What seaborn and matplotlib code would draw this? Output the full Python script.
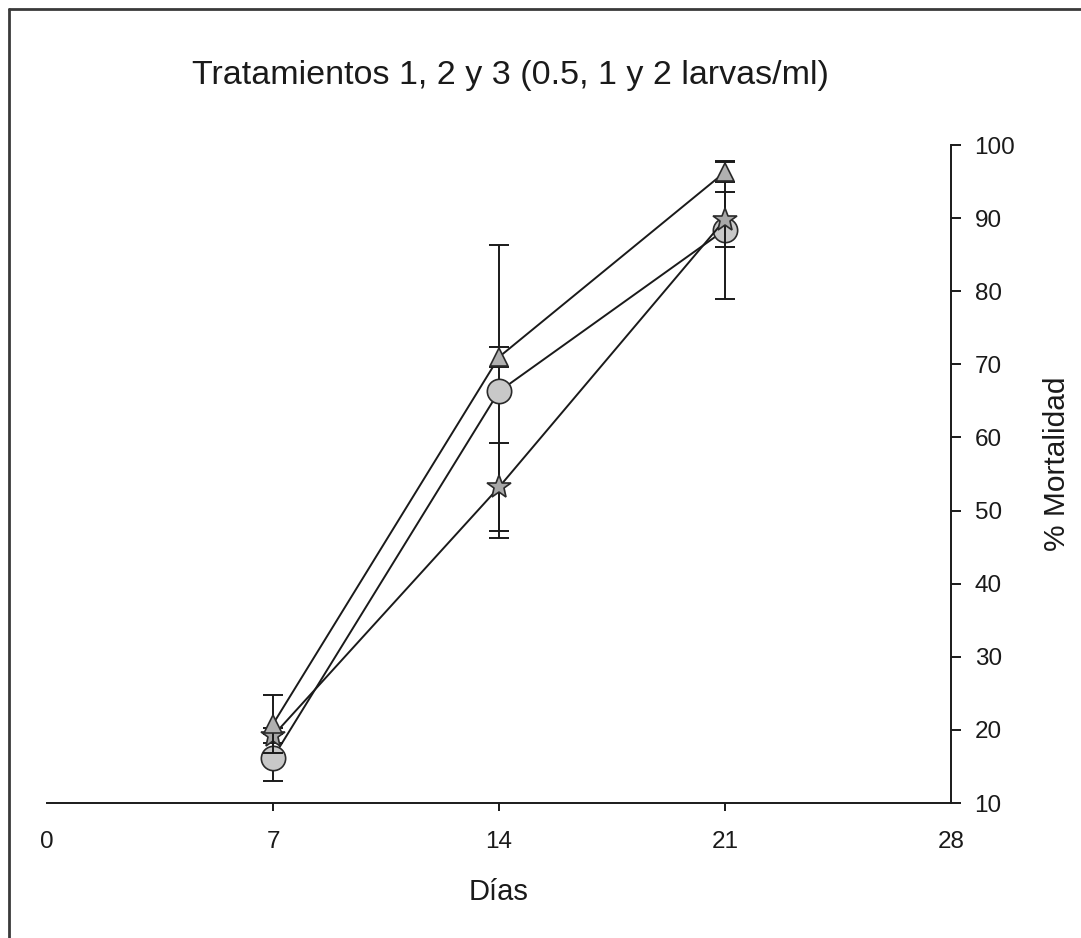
import matplotlib
matplotlib.use("Agg")
import matplotlib.pyplot as plt
from matplotlib.lines import Line2D
import seaborn as sns
import pandas as pd

# Days of sampling
dias = [7, 14, 21]

# Mortality (%) and error for each treatment
t1_mort = [16.2, 66.3, 88.4]
t1_err = [3.2, 20.0, 9.4]
t2_mort = [20.8, 71.0, 96.3]
t2_err = [4.0, 1.4, 1.4]
t3_mort = [19.2, 53.2, 89.8]
t3_err = [1.0, 6.0, 3.8]

x_ticks = [0, 7, 14, 21, 28]
y_ticks = [10, 20, 30, 40, 50, 60, 70, 80, 90, 100]

sns.set_theme(style="white")
plt.rcParams["font.family"] = ["Liberation Sans", "DejaVu Sans"]

fig = plt.figure(figsize=(10.81, 9.38), dpi=100)
ax = fig.add_axes([0.0435, 0.1439, 0.8362, 0.7015])

series = [
    ("T1", t1_mort, t1_err, "o", 17.5, "#c8c8c8"),
    ("T3", t3_mort, t3_err, "*", 18, "#a8a8a8"),
    ("T2", t2_mort, t2_err, "^", 13, "#b0b0b0"),
]

for i, (name, mort, err, mk, ms, fc) in enumerate(series):
    df = pd.DataFrame({"dia": dias, "mort": mort})
    ax.errorbar(dias, mort, yerr=err, fmt="none", ecolor="#1a1a1a",
                elinewidth=1.4, capsize=7.5, capthick=1.4, zorder=2 + i * 2)
    sns.lineplot(data=df, x="dia", y="mort", ax=ax, color="#1a1a1a",
                 linewidth=1.4, marker=mk, markersize=ms,
                 markerfacecolor=fc, markeredgecolor="#2a2a2a",
                 markeredgewidth=1.2, zorder=3 + i * 2)

ax.set_xlim(0, 28)
ax.set_ylim(10, 100)
ax.set_xticks(x_ticks)
ax.set_xticklabels([str(v) for v in x_ticks])
ax.set_yticks(y_ticks)
ax.set_yticklabels([str(v) for v in y_ticks])

for side in ["top", "left"]:
    ax.spines[side].set_visible(False)
for side in ["bottom", "right"]:
    ax.spines[side].set_color("#1a1a1a")
    ax.spines[side].set_linewidth(1.4)

ax.yaxis.tick_right()
ax.yaxis.set_label_position("right")
ax.tick_params(axis="y", direction="out", length=7, width=1.4, color="#1a1a1a",
               labelsize=17.5, pad=10, labelcolor="#1a1a1a", right=True, left=False)
ax.tick_params(axis="x", direction="out", length=5.5, width=1.4, color="#1a1a1a",
               labelsize=17.5, pad=15, labelcolor="#1a1a1a", bottom=True)
xt = ax.xaxis.get_major_ticks()
xt[0].tick1line.set_visible(False)
xt[-1].tick1line.set_visible(False)

ax.set_xlabel("Días", fontsize=21, color="#1a1a1a", labelpad=18)
ax.set_ylabel("% Mortalidad", fontsize=21.5, color="#1a1a1a", va="center")
ax.yaxis.set_label_coords(1.117, 0.515)

fig.text(0.472, 0.92, "Tratamientos 1, 2 y 3 (0.5, 1 y 2 larvas/ml)",
         fontsize=24.5, color="#1a1a1a", ha="center", va="center")

# Outer frame (left and top edges)
fig.add_artist(Line2D([0.008, 0.008], [0.0, 0.9905], transform=fig.transFigure,
                      color="#3a3a3a", linewidth=2))
fig.add_artist(Line2D([0.008, 1.0], [0.9905, 0.9905], transform=fig.transFigure,
                      color="#3a3a3a", linewidth=2))

fig.savefig("out.png", dpi=100, facecolor="white")
